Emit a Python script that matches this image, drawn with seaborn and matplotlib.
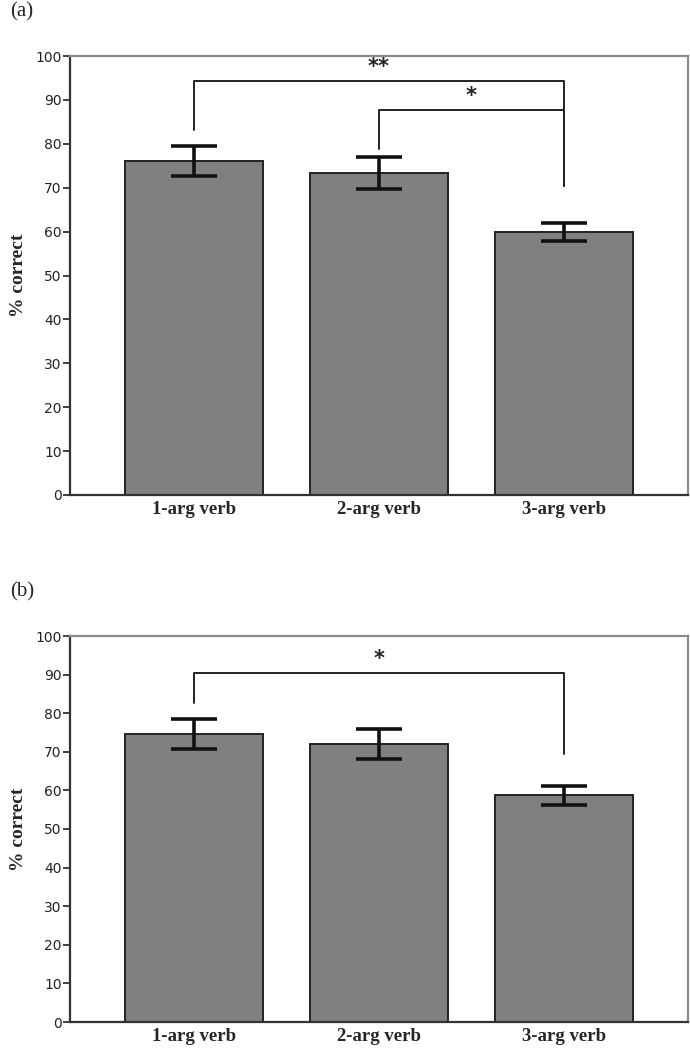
import matplotlib
matplotlib.use('Agg')
import matplotlib.pyplot as plt
import seaborn as sns
import pandas as pd

conditions = ['1-arg verb', '2-arg verb', '3-arg verb']
yticks = list(range(0, 101, 10))

# panel (a)
mean_a = [76.0, 73.3, 59.9]
err_a = [3.4, 3.7, 2.1]
# brackets: (left bar, right bar, bracket height, left leg end, right leg end, label)
brackets_a = [(0, 2, 94.3, 83.2, 70.3, '**'),
              (1, 2, 87.6, 78.9, 70.3, '*')]

# panel (b)
mean_b = [74.7, 72.0, 58.7]
err_b = [3.9, 3.85, 2.45]
brackets_b = [(0, 2, 90.3, 82.6, 69.4, '*')]

sns.set_style('white')
plt.rcParams['font.family'] = ['DejaVu Sans']

fig = plt.figure(figsize=(6.9, 10.5), dpi=100)
ax_a = fig.add_axes([70/690, 1-495/1050, 618/690, 439/1050])
ax_b = fig.add_axes([70/690, 1-1022/1050, 618/690, 386/1050])


def panel(ax, means, errs, brackets, tag, tag_y):
    df = pd.DataFrame({'cond': conditions, 'pct': means})
    sns.barplot(data=df, x='cond', y='pct', ax=ax, color='#808080',
                saturation=1, width=0.75, errorbar=None,
                edgecolor='#222222', linewidth=1.4)
    ax.errorbar(range(len(means)), means, yerr=errs, fmt='none',
                ecolor='#111111', elinewidth=2.6, capsize=16.5, capthick=2.6)
    for i, j, h, l1, l2, lab in brackets:
        ax.plot([i, i, j, j], [l1, h, h, l2], color='#222222', lw=1.4)
        ax.annotate(lab, xy=((i + j) / 2, h), xytext=(0, 3),
                    textcoords='offset points', ha='center', va='bottom',
                    fontsize=15, fontweight='bold', color='#222222')
    ax.set_xlim(-0.67, 2.67)
    ax.set_ylim(0, 100)
    ax.set_yticks(yticks)
    ax.tick_params(axis='y', which='both', left=True, length=5, width=1.3,
                   color='#333333', labelsize=10, pad=1, labelcolor='#222222')
    ax.tick_params(axis='x', bottom=False, pad=1)
    for lab in ax.get_xticklabels():
        lab.set_fontfamily('Liberation Serif')
        lab.set_fontweight('bold')
        lab.set_fontsize(13.5)
    ax.set_xlabel('')
    ax.set_ylabel('% correct', fontfamily='Liberation Serif', fontweight='bold',
                  fontsize=14, labelpad=6)
    for s in ['left', 'bottom']:
        ax.spines[s].set_color('#333333')
        ax.spines[s].set_linewidth(1.6)
    for s in ['top', 'right']:
        ax.spines[s].set_color('#8a8a8a')
        ax.spines[s].set_linewidth(1.6)
    fig.text(10/690, 1-tag_y/1050, tag, fontfamily='Liberation Serif',
             fontsize=15, va='center', ha='left')


panel(ax_a, mean_a, err_a, brackets_a, '(a)', 12)
panel(ax_b, mean_b, err_b, brackets_b, '(b)', 592)

fig.savefig('out.png', dpi=100)
plt.close()
